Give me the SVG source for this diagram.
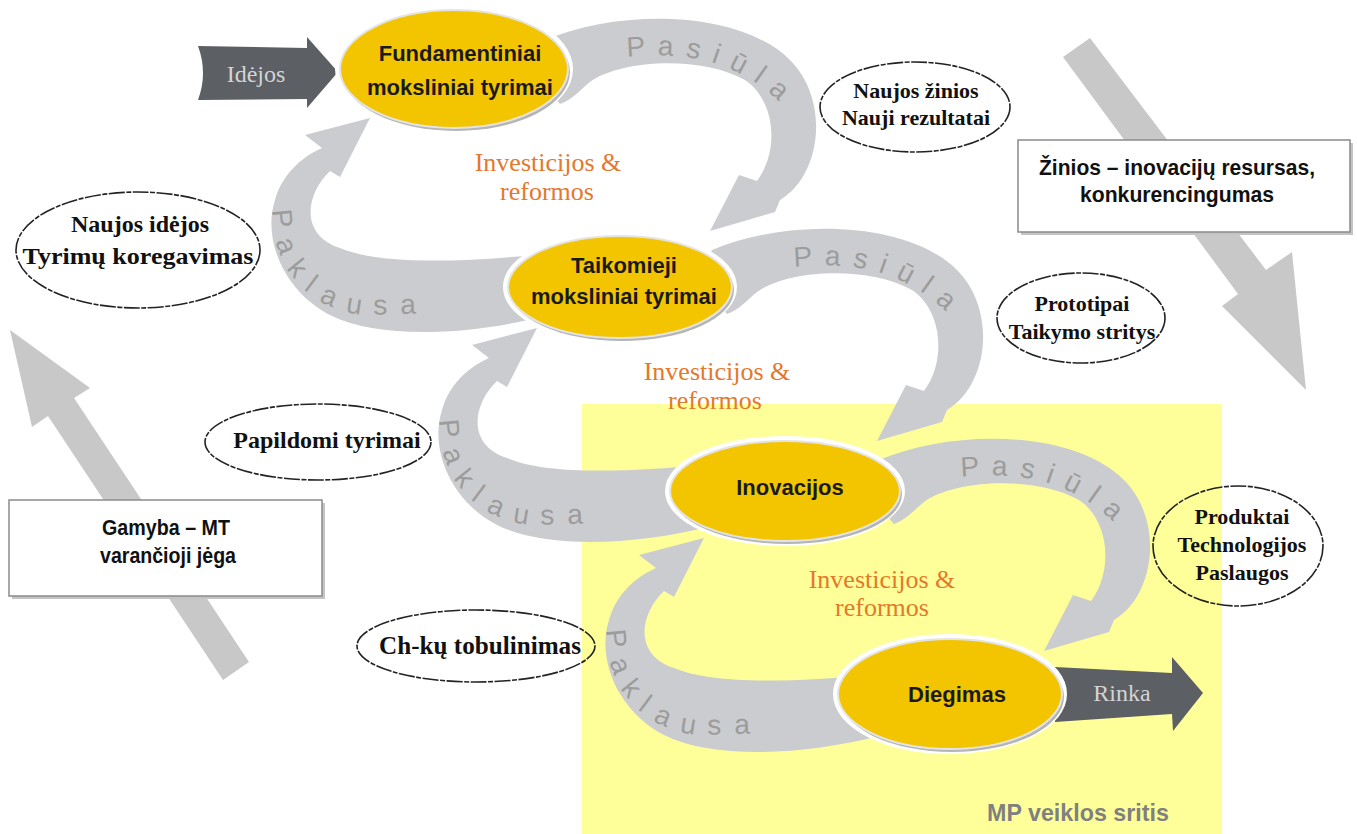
<svg xmlns="http://www.w3.org/2000/svg" xmlns:xlink="http://www.w3.org/1999/xlink" width="1357" height="834" viewBox="0 0 1357 834">
<style>
.band{fill:#cbcccf}
.big{fill:#c8c8c8}
.dark{fill:#5c5f63}
.halo{fill:#fff;stroke:#fff;stroke-width:10}
.shd{fill:#b5b5b5}
.yel{fill:#F3C500;stroke:#e4e4e4;stroke-width:2}
.oval{fill:none;stroke:#222;stroke-width:1.6;stroke-dasharray:16 1.5 5 1.5}
.box{fill:#fff;stroke:#8a8a8a;stroke-width:1.5}
.boxs{fill:#c4c4c4}
.nt{font-family:"Liberation Sans",Arial,sans-serif;font-weight:bold;font-size:22px;fill:#1a1a1a;text-anchor:middle}
.ot{font-family:"Liberation Serif","Times New Roman",serif;font-weight:bold;font-size:22px;fill:#111;text-anchor:middle}
.inv{font-family:"Liberation Serif","Times New Roman",serif;font-size:26px;fill:#E4782B;text-anchor:middle}
.arc{font-family:"Liberation Sans",Arial,sans-serif;font-size:28px;fill:#9c9c9c;letter-spacing:12px}
.bt{font-family:"Liberation Sans",Arial,sans-serif;font-weight:bold;font-size:22px;fill:#111;text-anchor:middle}
.lt{font-family:"Liberation Serif","Times New Roman",serif;font-size:24px;fill:#d4d4d4;text-anchor:middle}
.mp{font-family:"Liberation Sans",Arial,sans-serif;font-weight:bold;font-size:24px;fill:#808080;text-anchor:middle}
</style>
<defs>
<path id="pas" d="M 545,40 C 620,8 740,10 790,60 C 830,100 822,175 780,200 L 775,212 L 710,231 L 739,175 L 757,181 C 780,150 775,100 745,80 C 700,55 620,60 590,82 C 580,90 572,100 560,104 L 530,70 Z"/>
<path id="pak" d="M 370,118 L 340,177 L 330,171 C 305,195 300,235 340,248 C 380,265 460,262 535,255 L 565,285 L 545,316 C 470,335 380,340 330,315 C 285,292 262,240 275,200 C 282,175 300,158 322,148 L 305,135 Z"/>
<path id="pasT" d="M 627,57 C 680,52 735,55 790,112"/>
<path id="pakT" d="M 273,210 C 271,265 305,307 362,315 L 470,312"/>
</defs>
<rect width="1357" height="834" fill="#fff"/>
<rect id="mp-area" x="582" y="404" width="640" height="430" fill="#FFFF99"/>
<text class="mp" x="1078" y="821" textLength="182" lengthAdjust="spacingAndGlyphs">MP veiklos sritis</text>

<g id="trend-arrows">
<polygon class="big" points="1063,57 1090,38 1266,270 1292,252 1306,390 1222,306 1238,294"/>
<polygon class="big" points="10,330 90,388 74,398 249,662 223,680 48,416 32,427"/>
</g>

<g id="box-zinios">
<rect class="boxs" x="1021" y="143" width="332" height="92"/>
<rect class="box" x="1018" y="140" width="332" height="92"/>
<text class="bt" x="1177" y="175" textLength="276" lengthAdjust="spacingAndGlyphs">Žinios – inovacijų resursas,</text>
<text class="bt" x="1177" y="202" textLength="194" lengthAdjust="spacingAndGlyphs">konkurencingumas</text>
</g>
<g id="box-gamyba">
<rect class="boxs" x="12" y="503" width="313" height="96"/>
<rect class="box" x="9" y="500" width="313" height="96"/>
<text class="bt" x="166" y="535" textLength="128" lengthAdjust="spacingAndGlyphs">Gamyba – MT</text>
<text class="bt" x="168" y="563" textLength="136" lengthAdjust="spacingAndGlyphs">varančioji jėga</text>
</g>

<g id="connectors">
<g id="pasiula-1"><use href="#pas" xlink:href="#pas" class="band"/><text class="arc"><textPath href="#pasT" xlink:href="#pasT">Pasiūla</textPath></text></g>
<g id="pasiula-2" transform="translate(167,210)"><use href="#pas" xlink:href="#pas" class="band"/><text class="arc"><textPath href="#pasT" xlink:href="#pasT">Pasiūla</textPath></text></g>
<g id="pasiula-3" transform="translate(334,420)"><use href="#pas" xlink:href="#pas" class="band"/><text class="arc"><textPath href="#pasT" xlink:href="#pasT">Pasiūla</textPath></text></g>
<g id="paklausa-1"><use href="#pak" xlink:href="#pak" class="band"/><text class="arc" style="letter-spacing:13px"><textPath href="#pakT" xlink:href="#pakT">Paklausa</textPath></text></g>
<g id="paklausa-2" transform="translate(167,210)"><use href="#pak" xlink:href="#pak" class="band"/><text class="arc" style="letter-spacing:13px"><textPath href="#pakT" xlink:href="#pakT">Paklausa</textPath></text></g>
<g id="paklausa-3" transform="translate(334,420)"><use href="#pak" xlink:href="#pak" class="band"/><text class="arc" style="letter-spacing:13px"><textPath href="#pakT" xlink:href="#pakT">Paklausa</textPath></text></g>
<g id="arrow-idejos">
<path class="dark" d="M 198,46 L 307,48 L 307,37 L 338,72 L 307,108 L 307,99 L 198,100 Q 208,73 198,46 Z"/>
<text class="lt" x="256" y="82">Idėjos</text>
</g>
<g id="arrow-rinka">
<path class="dark" d="M 1055,667 L 1172,673 L 1172,657 L 1203,693 L 1173,731 L 1172,714 L 1055,722 Z"/>
<text class="lt" x="1122" y="701">Rinka</text>
</g>
</g>

<g id="node-fundamentiniai">
<ellipse class="halo" cx="454" cy="69" rx="114" ry="59"/>
<ellipse class="shd" cx="456" cy="72" rx="114" ry="59"/>
<ellipse class="yel" cx="454" cy="69" rx="114" ry="59"/>
<text class="nt" x="460" y="61">Fundamentiniai</text>
<text class="nt" x="460" y="95">moksliniai tyrimai</text>
</g>
<g id="node-taikomieji">
<ellipse class="halo" cx="620" cy="287" rx="112" ry="51"/>
<ellipse class="shd" cx="622" cy="290" rx="112" ry="51"/>
<ellipse class="yel" cx="620" cy="287" rx="112" ry="51"/>
<text class="nt" x="624" y="273">Taikomieji</text>
<text class="nt" x="624" y="304">moksliniai tyrimai</text>
</g>
<g id="node-inovacijos">
<ellipse class="halo" cx="785" cy="491" rx="115" ry="50"/>
<ellipse class="shd" cx="787" cy="494" rx="115" ry="50"/>
<ellipse class="yel" cx="785" cy="491" rx="115" ry="50"/>
<text class="nt" x="790" y="495">Inovacijos</text>
</g>
<g id="node-diegimas">
<ellipse class="halo" cx="950" cy="694" rx="112" ry="55"/>
<ellipse class="shd" cx="952" cy="697" rx="112" ry="55"/>
<ellipse class="yel" cx="950" cy="694" rx="112" ry="55"/>
<text class="nt" x="957" y="702">Diegimas</text>
</g>

<g id="label-investicijos-1">
<text class="inv" x="548" y="171">Investicijos &amp;</text>
<text class="inv" x="547" y="200">reformos</text>
</g>
<g id="label-investicijos-2">
<text class="inv" x="717" y="380">Investicijos &amp;</text>
<text class="inv" x="715" y="409">reformos</text>
</g>
<g id="label-investicijos-3">
<text class="inv" x="882" y="588">Investicijos &amp;</text>
<text class="inv" x="882" y="616">reformos</text>
</g>

<g id="oval-naujos-zinios">
<ellipse class="oval" cx="915" cy="107" rx="95" ry="45"/>
<text class="ot" x="916" y="98">Naujos žinios</text>
<text class="ot" x="916" y="125">Nauji rezultatai</text>
</g>
<g id="oval-naujos-idejos">
<ellipse class="oval" cx="138" cy="250" rx="122" ry="58"/>
<text class="ot" x="140" y="232" style="font-size:24px">Naujos idėjos</text>
<text class="ot" x="138" y="264" style="font-size:24px" textLength="231" lengthAdjust="spacingAndGlyphs">Tyrimų koregavimas</text>
</g>
<g id="oval-prototipai">
<ellipse class="oval" cx="1081" cy="318" rx="84" ry="45"/>
<text class="ot" x="1082" y="311">Prototipai</text>
<text class="ot" x="1082" y="339">Taikymo stritys</text>
</g>
<g id="oval-papildomi">
<ellipse class="oval" cx="318" cy="442" rx="113" ry="38"/>
<text class="ot" x="327" y="448" style="font-size:24px">Papildomi tyrimai</text>
</g>
<g id="oval-produktai">
<ellipse class="oval" cx="1238" cy="546" rx="85" ry="60"/>
<text class="ot" x="1242" y="524">Produktai</text>
<text class="ot" x="1242" y="552">Technologijos</text>
<text class="ot" x="1242" y="580">Paslaugos</text>
</g>
<g id="oval-chku">
<ellipse class="oval" cx="476" cy="646" rx="119" ry="36"/>
<text class="ot" x="480" y="654" style="font-size:25px" textLength="202" lengthAdjust="spacingAndGlyphs">Ch-kų tobulinimas</text>
</g>
</svg>
